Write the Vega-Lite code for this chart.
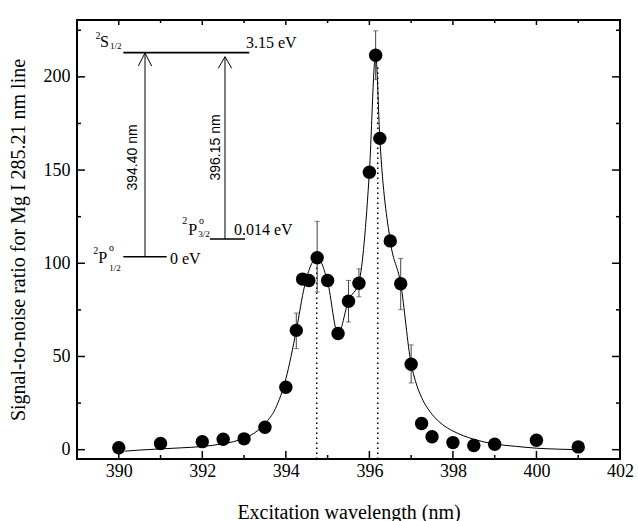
{
  "$schema": "https://vega.github.io/schema/vega-lite/v6.json",
  "width": 543,
  "height": 439,
  "autosize": {"type": "none"},
  "padding": {"left": 77, "top": 20, "right": 18, "bottom": 62},
  "background": "white",
  "config": {
    "font": "Liberation Serif",
    "view": {"stroke": "black", "strokeWidth": 2},
    "axis": {
      "labelFont": "Liberation Serif",
      "titleFont": "Liberation Serif",
      "labelFontSize": 18,
      "titleFontSize": 20,
      "titleFontWeight": "normal",
      "labelColor": "black",
      "titleColor": "black",
      "domain": false,
      "grid": false,
      "labelOverlap": false,
      "labelBound": false,
      "labelFlush": false
    }
  },
  "datasets": {
    "points": [
      {"wl": 390.0, "snr": 1.0}, {"wl": 391.0, "snr": 3.3}, {"wl": 392.0, "snr": 4.3},
      {"wl": 392.5, "snr": 5.6}, {"wl": 393.0, "snr": 5.8}, {"wl": 393.5, "snr": 12},
      {"wl": 394.0, "snr": 33.5}, {"wl": 394.25, "snr": 64}, {"wl": 394.4, "snr": 91.5},
      {"wl": 394.55, "snr": 90.8}, {"wl": 394.75, "snr": 103}, {"wl": 395.0, "snr": 90.8},
      {"wl": 395.25, "snr": 62.3}, {"wl": 395.5, "snr": 79.6}, {"wl": 395.75, "snr": 89.3},
      {"wl": 396.0, "snr": 148.8}, {"wl": 396.15, "snr": 211.6}, {"wl": 396.25, "snr": 167},
      {"wl": 396.5, "snr": 112}, {"wl": 396.75, "snr": 89}, {"wl": 397.0, "snr": 45.8},
      {"wl": 397.25, "snr": 14}, {"wl": 397.5, "snr": 6.9}, {"wl": 398.0, "snr": 3.8},
      {"wl": 398.5, "snr": 2.2}, {"wl": 399.0, "snr": 2.9}, {"wl": 400.0, "snr": 5.1},
      {"wl": 401.0, "snr": 1.5}
    ],
    "errors": [
      {"wl": 394.25, "lo": 54.2, "hi": 73.3}, {"wl": 394.75, "lo": 84.6, "hi": 122.5},
      {"wl": 395.5, "lo": 68.5, "hi": 90.8}, {"wl": 395.75, "lo": 82, "hi": 97},
      {"wl": 396.15, "lo": 198.5, "hi": 224.7}, {"wl": 396.75, "lo": 75.1, "hi": 102.6},
      {"wl": 397.0, "lo": 35.8, "hi": 56.2}
    ],
    "curve": [
      {"wl": 390.15, "snr": -0.8}, {"wl": 390.5, "snr": -0.2}, {"wl": 391.0, "snr": 0.4},
      {"wl": 391.5, "snr": 1.0}, {"wl": 392.0, "snr": 1.7}, {"wl": 392.5, "snr": 3.2},
      {"wl": 392.75, "snr": 4.3}, {"wl": 393.0, "snr": 6.2}, {"wl": 393.25, "snr": 9.0},
      {"wl": 393.5, "snr": 14}, {"wl": 393.75, "snr": 22}, {"wl": 394.0, "snr": 38},
      {"wl": 394.25, "snr": 64}, {"wl": 394.45, "snr": 88}, {"wl": 394.75, "snr": 103},
      {"wl": 395.0, "snr": 90}, {"wl": 395.25, "snr": 62}, {"wl": 395.5, "snr": 80},
      {"wl": 395.75, "snr": 90}, {"wl": 396.0, "snr": 149}, {"wl": 396.15, "snr": 212},
      {"wl": 396.25, "snr": 167}, {"wl": 396.5, "snr": 112}, {"wl": 396.75, "snr": 89},
      {"wl": 397.0, "snr": 46}, {"wl": 397.1, "snr": 37}, {"wl": 397.25, "snr": 28},
      {"wl": 397.5, "snr": 19}, {"wl": 397.75, "snr": 13.5}, {"wl": 398.0, "snr": 10},
      {"wl": 398.25, "snr": 7.5}, {"wl": 398.5, "snr": 5.6}, {"wl": 398.75, "snr": 4.1},
      {"wl": 399.0, "snr": 3.0}, {"wl": 399.5, "snr": 1.8}, {"wl": 400.0, "snr": 0.8},
      {"wl": 400.5, "snr": 0.3}, {"wl": 400.95, "snr": 0}
    ],
    "dotted": [
      {"wl": 394.74, "lo": -5, "hi": 100}, {"wl": 396.2, "lo": -5, "hi": 205}
    ],
    "xMajor": [{"v": 390}, {"v": 392}, {"v": 394}, {"v": 396}, {"v": 398}, {"v": 400}],
    "xMinor": [{"v": 391}, {"v": 393}, {"v": 395}, {"v": 397}, {"v": 399}, {"v": 401}],
    "yMajor": [{"v": 0}, {"v": 50}, {"v": 100}, {"v": 150}, {"v": 200}],
    "yMinor": [{"v": 25}, {"v": 75}, {"v": 125}, {"v": 175}, {"v": 225}],
    "levels": [
      {"x1": 390.108, "x2": 393.125, "y1": 213.0, "y2": 213.0},
      {"x1": 390.108, "x2": 391.148, "y1": 103.5, "y2": 103.5},
      {"x1": 392.184, "x2": 393.022, "y1": 113.0, "y2": 113.0}
    ],
    "shafts": [
      {"x1": 390.628, "x2": 390.628, "y1": 103.5, "y2": 212.8},
      {"x1": 392.543, "x2": 392.543, "y1": 113.0, "y2": 210.8}
    ],
    "heads": [
      {"arrow": "a", "seq": 0, "x": 390.468, "y": 205.8},
      {"arrow": "a", "seq": 1, "x": 390.628, "y": 212.8},
      {"arrow": "a", "seq": 2, "x": 390.788, "y": 205.8},
      {"arrow": "b", "seq": 0, "x": 392.383, "y": 204.6},
      {"arrow": "b", "seq": 1, "x": 392.543, "y": 210.8},
      {"arrow": "b", "seq": 2, "x": 392.704, "y": 204.6}
    ],
    "mainText": [
      {"x": 389.551, "y": 216.2, "t": "S"},
      {"x": 393.046, "y": 215.3, "t": "3.15 eV"},
      {"x": 391.227, "y": 99.4, "t": "0 eV"},
      {"x": 392.759, "y": 115.16, "t": "0.014 eV"},
      {"x": 389.51, "y": 99.98, "t": "P"},
      {"x": 391.665, "y": 115.16, "t": "P"}
    ],
    "supText": [
      {"x": 389.44, "y": 220.15, "t": "2"},
      {"x": 389.39, "y": 104.97, "t": "2"},
      {"x": 391.52, "y": 120.9, "t": "2"},
      {"x": 389.766, "y": 106.58, "t": "o"},
      {"x": 391.921, "y": 120.9, "t": "o"}
    ],
    "subText": [
      {"x": 389.79, "y": 214.8, "t": "1/2"},
      {"x": 389.773, "y": 95.85, "t": "1/2"},
      {"x": 391.904, "y": 114.1, "t": "3/2"}
    ],
    "rotText": [
      {"x": 390.348, "y": 156.74, "t": "394.40 nm"},
      {"x": 392.32, "y": 162.1, "t": "396.15 nm"}
    ]
  },
  "layer": [
    {
      "data": {"name": "curve"},
      "mark": {"type": "line", "color": "black", "strokeWidth": 1, "interpolate": "monotone"},
      "encoding": {
        "x": {
          "field": "wl", "type": "quantitative",
          "scale": {"domain": [389, 402], "nice": false, "zero": false},
          "axis": {
            "orient": "bottom",
            "values": [390, 392, 394, 396, 398, 400, 402],
            "ticks": false,
            "labelPadding": 3,
            "title": "Excitation wavelength (nm)",
            "titlePadding": 22
          }
        },
        "y": {
          "field": "snr", "type": "quantitative",
          "scale": {"domain": [-5, 230.5], "nice": false, "zero": false},
          "axis": {
            "orient": "left",
            "values": [0, 50, 100, 150, 200],
            "ticks": false,
            "labelPadding": 7,
            "title": "Signal-to-noise ratio for Mg I 285.21 nm line",
            "titlePadding": 15
          }
        }
      }
    },
    {
      "data": {"name": "dotted"},
      "mark": {"type": "rule", "color": "black", "strokeWidth": 1.5, "strokeDash": [1.5, 3.5]},
      "encoding": {
        "x": {"field": "wl", "type": "quantitative"},
        "y": {"field": "lo", "type": "quantitative"},
        "y2": {"field": "hi"}
      }
    },
    {
      "data": {"name": "xMajor"},
      "mark": {"type": "rule", "color": "black", "strokeWidth": 1.5},
      "encoding": {
        "x": {"field": "v", "type": "quantitative"},
        "y": {"datum": -5},
        "y2": {"datum": -0.71}
      }
    },
    {
      "data": {"name": "xMinor"},
      "mark": {"type": "rule", "color": "black", "strokeWidth": 1.5},
      "encoding": {
        "x": {"field": "v", "type": "quantitative"},
        "y": {"datum": -5},
        "y2": {"datum": -2.85}
      }
    },
    {
      "data": {"name": "xMajor"},
      "mark": {"type": "rule", "color": "black", "strokeWidth": 1.5},
      "encoding": {
        "x": {"field": "v", "type": "quantitative"},
        "y": {"datum": 230.5},
        "y2": {"datum": 227.82}
      }
    },
    {
      "data": {"name": "xMinor"},
      "mark": {"type": "rule", "color": "black", "strokeWidth": 1.5},
      "encoding": {
        "x": {"field": "v", "type": "quantitative"},
        "y": {"datum": 230.5},
        "y2": {"datum": 228.89}
      }
    },
    {
      "data": {"name": "yMajor"},
      "mark": {"type": "rule", "color": "black", "strokeWidth": 1.5},
      "encoding": {
        "y": {"field": "v", "type": "quantitative"},
        "x": {"datum": 389},
        "x2": {"datum": 389.19}
      }
    },
    {
      "data": {"name": "yMinor"},
      "mark": {"type": "rule", "color": "black", "strokeWidth": 1.5},
      "encoding": {
        "y": {"field": "v", "type": "quantitative"},
        "x": {"datum": 389},
        "x2": {"datum": 389.096}
      }
    },
    {
      "data": {"name": "yMajor"},
      "mark": {"type": "rule", "color": "black", "strokeWidth": 1.5},
      "encoding": {
        "y": {"field": "v", "type": "quantitative"},
        "x": {"datum": 402},
        "x2": {"datum": 401.81}
      }
    },
    {
      "data": {"name": "yMinor"},
      "mark": {"type": "rule", "color": "black", "strokeWidth": 1.5},
      "encoding": {
        "y": {"field": "v", "type": "quantitative"},
        "x": {"datum": 402},
        "x2": {"datum": 401.904}
      }
    },
    {
      "data": {"name": "errors"},
      "mark": {"type": "rule", "color": "#444", "strokeWidth": 1},
      "encoding": {
        "x": {"field": "wl", "type": "quantitative"},
        "y": {"field": "lo", "type": "quantitative"},
        "y2": {"field": "hi"}
      }
    },
    {
      "data": {"name": "errors"},
      "mark": {"type": "tick", "orient": "horizontal", "color": "#444", "size": 5, "thickness": 1},
      "encoding": {
        "x": {"field": "wl", "type": "quantitative"},
        "y": {"field": "hi", "type": "quantitative"}
      }
    },
    {
      "data": {"name": "errors"},
      "mark": {"type": "tick", "orient": "horizontal", "color": "#444", "size": 5, "thickness": 1},
      "encoding": {
        "x": {"field": "wl", "type": "quantitative"},
        "y": {"field": "lo", "type": "quantitative"}
      }
    },
    {
      "data": {"name": "points"},
      "mark": {"type": "circle", "color": "black", "size": 180, "opacity": 1},
      "encoding": {
        "x": {"field": "wl", "type": "quantitative"},
        "y": {"field": "snr", "type": "quantitative"}
      }
    },
    {
      "data": {"name": "levels"},
      "mark": {"type": "rule", "color": "black", "strokeWidth": 1.6},
      "encoding": {
        "x": {"field": "x1", "type": "quantitative"},
        "x2": {"field": "x2"},
        "y": {"field": "y1", "type": "quantitative"},
        "y2": {"field": "y2"}
      }
    },
    {
      "data": {"name": "shafts"},
      "mark": {"type": "rule", "color": "black", "strokeWidth": 1},
      "encoding": {
        "x": {"field": "x1", "type": "quantitative"},
        "x2": {"field": "x2"},
        "y": {"field": "y1", "type": "quantitative"},
        "y2": {"field": "y2"}
      }
    },
    {
      "data": {"name": "heads"},
      "mark": {"type": "line", "color": "black", "strokeWidth": 1},
      "encoding": {
        "x": {"field": "x", "type": "quantitative"},
        "y": {"field": "y", "type": "quantitative"},
        "detail": {"field": "arrow"},
        "order": {"field": "seq"}
      }
    },
    {
      "data": {"name": "mainText"},
      "mark": {"type": "text", "font": "Liberation Serif", "fontSize": 16, "align": "left", "baseline": "alphabetic", "color": "black"},
      "encoding": {
        "x": {"field": "x", "type": "quantitative"},
        "y": {"field": "y", "type": "quantitative"},
        "text": {"field": "t"}
      }
    },
    {
      "data": {"name": "supText"},
      "mark": {"type": "text", "font": "Liberation Serif", "fontSize": 10, "align": "left", "baseline": "alphabetic", "color": "black"},
      "encoding": {
        "x": {"field": "x", "type": "quantitative"},
        "y": {"field": "y", "type": "quantitative"},
        "text": {"field": "t"}
      }
    },
    {
      "data": {"name": "subText"},
      "mark": {"type": "text", "font": "Liberation Serif", "fontSize": 9, "align": "left", "baseline": "alphabetic", "color": "black"},
      "encoding": {
        "x": {"field": "x", "type": "quantitative"},
        "y": {"field": "y", "type": "quantitative"},
        "text": {"field": "t"}
      }
    },
    {
      "data": {"name": "rotText"},
      "mark": {"type": "text", "font": "Liberation Sans", "fontSize": 14, "align": "center", "baseline": "middle", "angle": 270, "color": "black"},
      "encoding": {
        "x": {"field": "x", "type": "quantitative"},
        "y": {"field": "y", "type": "quantitative"},
        "text": {"field": "t"}
      }
    }
  ]
}
